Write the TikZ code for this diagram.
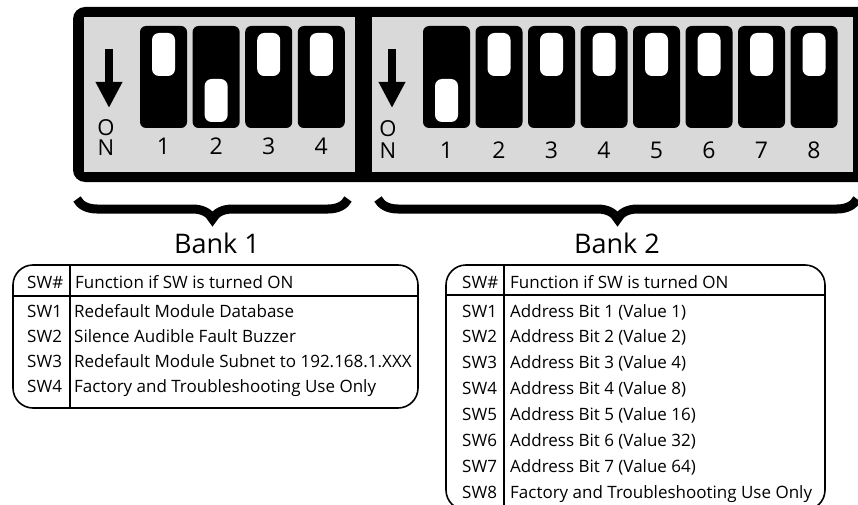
\documentclass[tikz,border=0pt]{standalone}
\usepackage{fontspec}
\setmainfont{Open Sans}
\usetikzlibrary{arrows.meta,decorations.pathreplacing}

\tikzset{
  housing/.style={fill=black, rounded corners=12pt},
  window/.style={fill=gray!30},
  switchbody/.style={fill=black, rounded corners=6pt},
  knob/.style={fill=white, rounded corners=7pt},
  onarrow/.style={line width=8pt, -{Triangle[width=25pt,length=26pt]}},
  swnum/.style={font=\fontsize{23}{23}\selectfont, inner sep=0pt, anchor=base},
  onletter/.style={font=\fontsize{22}{22}\selectfont, inner sep=0pt, anchor=base},
  bankbrace/.style={decorate, decoration={brace, amplitude=20pt}, line width=9pt},
  banklabel/.style={font=\fontsize{27}{27}\selectfont, inner sep=0pt, anchor=base},
  tablebox/.style={line width=1.6pt, rounded corners=20pt},
  cell/.style={font=\fontsize{17}{17}\selectfont, inner sep=0pt, anchor=base west},
}

\begin{document}
\begin{tikzpicture}[x=1pt, y=-1pt]
  \useasboundingbox (0,0) rectangle (858,505);

  % housing and windows
  \fill[housing] (73,7) rectangle (880,182);
  \fill[window] (84,17) rectangle (355,172);
  \fill[window] (372,17) rectangle (853,172);

  % ON arrows
  \coordinate (on1top) at (109,49);
  \coordinate (on1tip) at (109,108);
  \draw[onarrow] (on1top) -- (on1tip);
  \node[onletter] (on1o) at (106,136) {O};
  \node[onletter] (on1n) at (106,156) {N};
  \coordinate (on2top) at (392,49);
  \coordinate (on2tip) at (392,108);
  \draw[onarrow] (on2top) -- (on2tip);
  \node[onletter] (on2o) at (388,137) {O};
  \node[onletter] (on2n) at (388,158) {N};

  % bank 1 switches (2 is ON)
  \foreach \i/\s in {1/0,2/1,3/0,4/0} {
    \pgfmathsetmacro{\xl}{140+52.6*(\i-1)}
    \pgfmathsetmacro{\ky}{33+46*\s}
    \fill[switchbody] (\xl,26) rectangle ++(47,102);
    \fill[knob] (\xl+12,\ky) rectangle ++(23,43);
    \node[swnum] (b1sw\i) at (\xl+23.5,155) {\i};
  }

  % bank 2 switches (1 is ON)
  \foreach \i/\s in {1/1,2/0,3/0,4/0,5/0,6/0,7/0,8/0} {
    \pgfmathsetmacro{\xl}{423+52.5*(\i-1)}
    \pgfmathsetmacro{\ky}{33+46*\s}
    \fill[switchbody] (\xl,26) rectangle ++(47,102);
    \fill[knob] (\xl+12,\ky) rectangle ++(23,43);
    \node[swnum] (b2sw\i) at (\xl+23.5,158) {\i};
  }

  % braces and bank names
  \coordinate (br1r) at (348,199);
  \coordinate (br1l) at (77,199);
  \draw[bankbrace] (br1r) -- (br1l);
  \node[banklabel] (bank1) at (217,253) {Bank 1};
  \coordinate (br2r) at (857,199);
  \coordinate (br2l) at (378,199);
  \draw[bankbrace] (br2r) -- (br2l);
  \node[banklabel] (bank2) at (617,253) {Bank 2};

  % table for bank 1
  \draw[tablebox] (13,265) rectangle (418,408);
  \draw[line width=1.6pt] (13,296) -- (418,296);
  \draw[line width=1.6pt] (70,265) -- (70,408);
  \node[cell] (t1h0) at (27,288) {SW\#};
  \node[cell] (t1h1) at (75,288) {Function if SW is turned ON};
  \foreach \i/\txt in {1/Redefault Module Database,
                       2/Silence Audible Fault Buzzer,
                       3/Redefault Module Subnet to 192.168.1.XXX,
                       4/Factory and Troubleshooting Use Only} {
    \node[cell] (t1sw\i) at (27,317+25.3*\i-25.3) {SW\i};
    \node[cell] (t1fn\i) at (74,317+25.3*\i-25.3) {\txt};
  }

  % table for bank 2
  \draw[tablebox] (446,265) rectangle (825,510);
  \draw[line width=1.6pt] (446,295) -- (825,295);
  \draw[line width=1.6pt] (504,265) -- (504,510);
  \node[cell] (t2h0) at (462,288) {SW\#};
  \node[cell] (t2h1) at (510,288) {Function if SW is turned ON};
  \foreach \i/\txt in {1/Address Bit 1 (Value 1),
                       2/Address Bit 2 (Value 2),
                       3/Address Bit 3 (Value 4),
                       4/Address Bit 4 (Value 8),
                       5/Address Bit 5 (Value 16),
                       6/Address Bit 6 (Value 32),
                       7/Address Bit 7 (Value 64),
                       8/Factory and Troubleshooting Use Only} {
    \node[cell] (t2sw\i) at (462,317+25.9*\i-25.9) {SW\i};
    \node[cell] (t2fn\i) at (510,317+25.9*\i-25.9) {\txt};
  }
\end{tikzpicture}
\end{document}
